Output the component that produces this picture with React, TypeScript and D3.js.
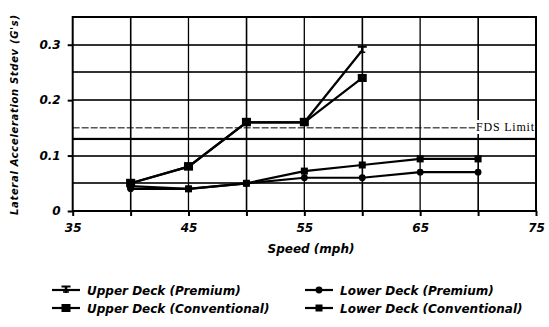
import React, { useEffect, useRef } from 'react';
import * as d3 from 'd3';

// Data
const speeds = [40, 45, 50, 55, 60, 65, 70];
const upperPremium = [0.05, 0.08, 0.16, 0.16, 0.29, null, null];
const upperConventional = [0.05, 0.08, 0.16, 0.16, 0.24, null, null];
const lowerPremium = [0.04, 0.04, 0.05, 0.06, 0.06, 0.07, 0.07];
const lowerConventional = [0.045, 0.04, 0.05, 0.072, 0.083, 0.094, 0.094];
const xTicks = [35, 45, 55, 65, 75];
const yTicks = [0, 0.1, 0.2, 0.3];
const yGrid = [0.05, 0.1, 0.15, 0.2, 0.25, 0.3];
const fdsLimit = 0.13;

const seriesNames = [
  'Upper Deck (Premium)',
  'Lower Deck (Premium)',
  'Upper Deck (Conventional)',
  'Lower Deck (Conventional)'
];

const FONT = '"DejaVu Sans", Verdana, sans-serif';

const App = () => {
  const ref = useRef<SVGSVGElement>(null);

  useEffect(() => {
    const svg = d3.select(ref.current);
    svg.selectAll('*').remove();

    const left = 72.7, right = 536, top = 17, bottom = 211;
    const x = d3.scaleLinear().domain([35, 75]).range([left, right]);
    const y = d3.scaleLinear().domain([0, 0.35]).range([bottom, top]);

    // Grid
    const g = svg.append('g');
    d3.range(40, 75, 5).forEach(v => {
      g.append('rect')
        .attr('x', x(v) - 0.7).attr('y', top)
        .attr('width', v % 10 === 0 ? 1.6 : 1.3).attr('height', bottom - top)
        .attr('fill', '#000');
    });
    yGrid.forEach(v => {
      if (v === 0.15) {
        g.append('line')
          .attr('x1', left).attr('x2', right)
          .attr('y1', y(v)).attr('y2', y(v))
          .attr('stroke', '#000').attr('stroke-width', 1)
          .attr('stroke-dasharray', '7,2');
      } else {
        g.append('rect')
          .attr('x', left).attr('y', Math.round(y(v)) - 0.8)
          .attr('width', right - left).attr('height', 1.6)
          .attr('fill', '#000');
      }
    });

    // FDS limit
    g.append('rect')
      .attr('x', left).attr('y', y(fdsLimit) - 1.1)
      .attr('width', right - left).attr('height', 2.2)
      .attr('fill', '#000');
    g.append('rect')
      .attr('x', 475).attr('y', 120).attr('width', 60).attr('height', 14)
      .attr('fill', '#fff');
    g.append('text')
      .attr('x', 476).attr('y', 131)
      .attr('font-family', '"Liberation Serif", "Times New Roman", serif')
      .attr('font-size', 12)
      .attr('textLength', 58)
      .text('FDS Limit');

    // Frame
    g.append('rect')
      .attr('x', left).attr('y', top)
      .attr('width', right - left).attr('height', bottom - top)
      .attr('fill', 'none').attr('stroke', '#000').attr('stroke-width', 2);

    // Axes
    const xAxis = svg.append('g')
      .attr('transform', `translate(0,${bottom})`)
      .call(d3.axisBottom(x).tickValues(d3.range(35, 80, 5)).tickSize(5).tickSizeOuter(0)
        .tickFormat(d => (xTicks.includes(d as number) ? d3.format('d')(d as number) : '')));
    xAxis.select('.domain').remove();
    xAxis.selectAll('line').attr('stroke-width', 2);
    xAxis.selectAll('text')
      .attr('dy', 13)
      .attr('font-family', FONT).attr('font-size', 12)
      .attr('font-weight', 'bold').attr('font-style', 'italic');

    const yAxis = svg.append('g')
      .attr('transform', `translate(${left},0)`)
      .call(d3.axisLeft(y).tickValues(yTicks).tickSize(5).tickSizeOuter(0)
        .tickFormat(d => (d === 0 ? '0' : d3.format('.1f')(d as number))));
    yAxis.select('.domain').remove();
    yAxis.selectAll('line').attr('stroke-width', 2);
    yAxis.selectAll('text')
      .attr('x', -12)
      .attr('font-family', FONT).attr('font-size', 12)
      .attr('font-weight', 'bold').attr('font-style', 'italic');

    // Axis titles
    svg.append('text')
      .attr('transform', `translate(18,${115}) rotate(-90)`)
      .attr('text-anchor', 'middle')
      .attr('font-family', FONT).attr('font-size', 10)
      .attr('font-weight', 'bold').attr('font-style', 'italic')
      .attr('textLength', 200)
      .text("Lateral Acceleration Stdev (G's)");
    svg.append('text')
      .attr('x', 311).attr('y', 253)
      .attr('text-anchor', 'middle')
      .attr('font-family', FONT).attr('font-size', 12)
      .attr('font-weight', 'bold').attr('font-style', 'italic')
      .text('Speed (mph)');

    // Markers
    const drawMarker = (sel: any, kind: number, cx: number, cy: number) => {
      if (kind === 0) {
        sel.append('line').attr('x1', cx - 4.5).attr('x2', cx + 4.5)
          .attr('y1', cy - 3.5).attr('y2', cy - 3.5).attr('stroke', '#000').attr('stroke-width', 2);
        sel.append('line').attr('x1', cx).attr('x2', cx)
          .attr('y1', cy - 4).attr('y2', cy + 3).attr('stroke', '#000').attr('stroke-width', 2.5);
        sel.append('line').attr('x1', cx - 3).attr('x2', cx + 3)
          .attr('y1', cy + 2).attr('y2', cy + 2).attr('stroke', '#000').attr('stroke-width', 1.5);
      } else if (kind === 1) {
        sel.append('circle').attr('cx', cx).attr('cy', cy).attr('r', 3.4).attr('fill', '#000');
      } else if (kind === 2) {
        sel.append('rect').attr('x', cx - 4.5).attr('y', cy - 4).attr('width', 9).attr('height', 8).attr('fill', '#000');
      } else {
        sel.append('rect').attr('x', cx - 3.5).attr('y', cy - 3.5).attr('width', 7).attr('height', 7).attr('fill', '#000');
      }
    };

    const seriesData = [upperPremium, lowerPremium, upperConventional, lowerConventional];
    const line = d3.line<[number, number]>().x(d => x(d[0])).y(d => y(d[1]));
    seriesData.forEach((vals, k) => {
      const pts = speeds
        .map((s, i) => [s, vals[i]] as [number, number | null])
        .filter(d => d[1] != null) as [number, number][];
      svg.append('path')
        .attr('d', line(pts))
        .attr('fill', 'none').attr('stroke', '#000').attr('stroke-width', 2.2);
      const mg = svg.append('g');
      pts.forEach(p => drawMarker(mg, k, x(p[0]), y(p[1])));
    });

    // Legend
    const legendPos = [[52, 290], [305, 290], [52, 308], [305, 308]];
    seriesNames.forEach((name, k) => {
      const [lx, ly] = legendPos[k];
      const lg = svg.append('g');
      lg.append('line').attr('x1', lx).attr('x2', lx + 28)
        .attr('y1', ly).attr('y2', ly).attr('stroke', '#000').attr('stroke-width', 2.2);
      drawMarker(lg, k, lx + 14, ly);
      lg.append('text')
        .attr('x', lx + 35).attr('y', ly + 4.5)
        .attr('font-family', FONT).attr('font-size', 12)
        .attr('font-weight', 'bold').attr('font-style', 'italic')
        .text(name);
    });
  }, []);

  return <svg ref={ref} width={549} height={327} style={{ position: 'absolute', left: 0, top: 0, background: '#fff' }} />;
};

export default App;
